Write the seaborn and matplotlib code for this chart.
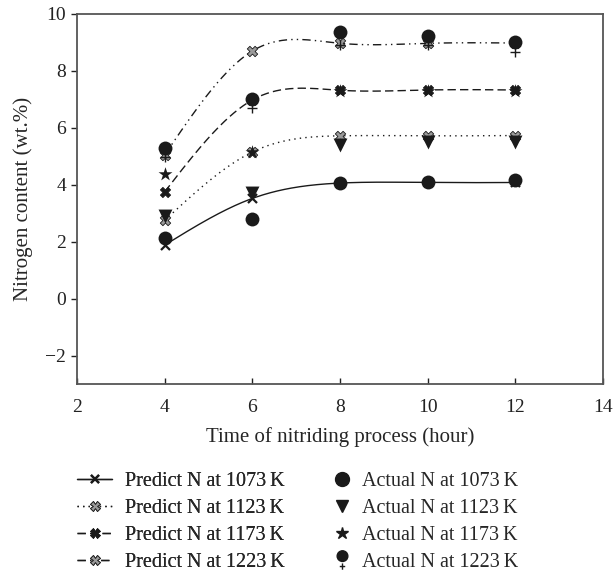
import numpy as np
import seaborn as sns
import matplotlib
matplotlib.use('Agg')
import matplotlib.pyplot as plt
from matplotlib.lines import Line2D
from matplotlib.path import Path

# nitriding time (hour)
hours = [4, 6, 8, 10, 12]

# predicted nitrogen content (wt.%)
pred_1073 = [1.88, 3.52, 4.06, 4.08, 4.08]
pred_1123 = [2.75, 5.15, 5.72, 5.72, 5.73]
pred_1173 = [3.75, 6.98, 7.32, 7.33, 7.33]
pred_1223 = [5.05, 8.70, 8.97, 8.97, 8.98]

# measured nitrogen content (wt.%)
act_1073 = [2.13, 2.80, 4.06, 4.10, 4.18]
act_1123 = [2.90, 3.70, 5.40, 5.50, 5.50]
act_1173 = [4.38, 5.15, 7.28, 7.30, 7.30]
act_1223 = [5.28, 7.00, 9.37, 9.24, 9.02]
act_1223_b = [4.98, 6.70, 8.92, 8.90, 8.67]

pred_labels = ['Predict N at 1073\u2009K', 'Predict N at 1123\u2009K',
               'Predict N at 1173\u2009K', 'Predict N at 1223\u2009K']
act_labels = ['Actual N at 1073\u2009K', 'Actual N at 1123\u2009K',
              'Actual N at 1173\u2009K', 'Actual N at 1223\u2009K']


def natural_spline(x, y, num=300):
    # smooth curve through the given points (natural cubic spline)
    x = np.asarray(x, float)
    y = np.asarray(y, float)
    n = len(x)
    h = np.diff(x)
    A = np.zeros((n, n))
    b = np.zeros(n)
    A[0, 0] = A[-1, -1] = 1
    for i in range(1, n - 1):
        A[i, i - 1] = h[i - 1]
        A[i, i] = 2 * (h[i - 1] + h[i])
        A[i, i + 1] = h[i]
        b[i] = 6 * ((y[i + 1] - y[i]) / h[i] - (y[i] - y[i - 1]) / h[i - 1])
    M = np.linalg.solve(A, b)
    xs = np.linspace(x[0], x[-1], num)
    idx = np.clip(np.searchsorted(x, xs) - 1, 0, n - 2)
    x0, x1 = x[idx], x[idx + 1]
    hh = x1 - x0
    t0, t1 = x1 - xs, xs - x0
    ys = (M[idx] * t0 ** 3 / (6 * hh) + M[idx + 1] * t1 ** 3 / (6 * hh)
          + (y[idx] / hh - M[idx] * hh / 6) * t0
          + (y[idx + 1] / hh - M[idx + 1] * hh / 6) * t1)
    return xs, ys


sns.set_theme(style='ticks')
plt.rcParams['font.family'] = ['Liberation Serif', 'DejaVu Serif']
plt.rcParams['axes.unicode_minus'] = True

fig = plt.figure(figsize=(6.14, 5.71), dpi=100)
ax = fig.add_axes([77 / 614, 1 - 384 / 571, 526 / 614, 370 / 571])

styles = [
    dict(ls='-', marker='x', mfc='k', mec='k', mew=1.6, ms=6.5),
    dict(ls=(0, (1, 3)), marker='X', mfc='#9a9a9a', mec='k', mew=0.6, ms=7.5),
    dict(ls=(0, (6, 3)), marker='X', mfc='k', mec='k', mew=0.5, ms=7.5),
    dict(ls=(0, (6, 3, 1, 3, 1, 3)), marker='X', mfc='#9a9a9a', mec='k', mew=0.6, ms=7.5),
]
preds = [pred_1073, pred_1123, pred_1173, pred_1223]

for vals, st in zip(preds, styles):
    xs, ys = natural_spline(hours, vals)
    sns.lineplot(x=xs, y=ys, ax=ax, color='k', linestyle=st['ls'],
                 linewidth=1.0, legend=False, sort=False)
    if st['marker'] == 'x':
        sns.scatterplot(x=hours, y=vals, ax=ax, marker='x', color='k',
                        s=st['ms'] ** 2, linewidth=st['mew'], zorder=3)
    else:
        sns.scatterplot(x=hours, y=vals, ax=ax, marker='X', color=st['mfc'],
                        edgecolor=st['mec'], s=st['ms'] ** 2,
                        linewidth=st['mew'], zorder=3)

# measured points
sns.scatterplot(x=hours, y=act_1073, ax=ax, marker='o', color='k', s=100,
                linewidth=0, zorder=4)
sns.scatterplot(x=hours, y=act_1123, ax=ax, marker='v', color='k', s=100,
                linewidth=0, zorder=4)
sns.scatterplot(x=hours, y=act_1173, ax=ax, marker='*', color='k', s=110,
                linewidth=0, zorder=4)
sns.scatterplot(x=hours, y=act_1223_b, ax=ax, marker='+', color='k', s=60,
                linewidth=1.0, zorder=4)
sns.scatterplot(x=hours, y=act_1223, ax=ax, marker='o', color='k', s=100,
                linewidth=0, zorder=5)

ax.set_xlim(2, 14)
ax.set_ylim(-3, 10)
ax.set_xticks([2, 4, 6, 8, 10, 12, 14])
ax.set_yticks([-2, 0, 2, 4, 6, 8, 10])
ax.set_xlabel('Time of nitriding process (hour)', fontsize=15, labelpad=8)
ax.set_ylabel('Nitrogen content (wt.%)', fontsize=15, labelpad=9)
ax.tick_params(axis='both', labelsize=14, colors='#222222', width=1.0)
ax.tick_params(axis='x', direction='in', length=4, pad=11)
ax.tick_params(axis='y', direction='out', length=4, pad=4)
for sp in ax.spines.values():
    sp.set_color('#555555')
    sp.set_linewidth(1.3)

# legend handles
pred_handles = [Line2D([], [], color='k', lw=1.0, linestyle=st['ls'],
                       marker=st['marker'], mfc=st['mfc'], mec=st['mec'],
                       mew=st['mew'], ms=st['ms'] - 0.5)
                for st in styles]

circ = Path.unit_circle()
circle_path = Path(circ.vertices * 0.55 + [0, 0.45], circ.codes)
plus_path = Path([(-0.28, -0.62), (0.28, -0.62), (0, -0.3), (0, -0.95)],
                 [Path.MOVETO, Path.LINETO, Path.MOVETO, Path.LINETO])
circle_plus = Path.make_compound_path(circle_path, plus_path)

act_handles = [
    Line2D([], [], ls='none', marker='o', color='k', ms=10),
    Line2D([], [], ls='none', marker='v', color='k', ms=9),
    Line2D([], [], ls='none', marker='*', color='k', ms=9),
    Line2D([], [], ls='none', marker=circle_plus, mfc='k', mec='k', mew=1.0, ms=14),
]

leg1 = fig.legend(pred_handles, pred_labels, loc='upper left',
                  bbox_to_anchor=(77 / 614, 1 - 472 / 571), frameon=False,
                  fontsize=14.5, handlelength=1.75, handletextpad=0.65,
                  labelspacing=0.39, borderpad=0, borderaxespad=0)
leg2 = fig.legend(act_handles, act_labels, loc='upper left',
                  bbox_to_anchor=(332 / 614, 1 - 472 / 571), frameon=False,
                  fontsize=14.5, handlelength=1.0, handletextpad=0.5,
                  labelspacing=0.39, borderpad=0, borderaxespad=0)
fig.add_artist(leg1)

fig.savefig('out.png', dpi=100)
